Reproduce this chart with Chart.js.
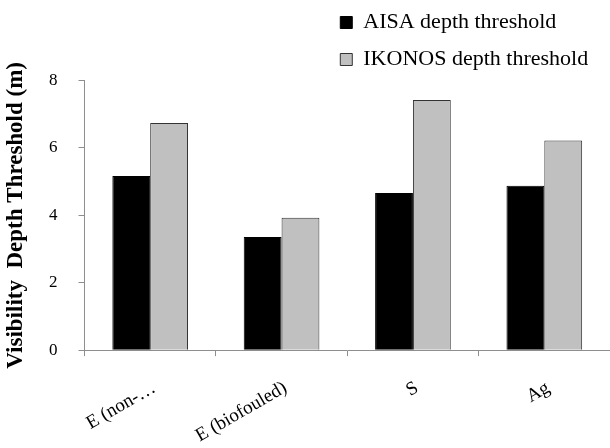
<!DOCTYPE html>
<html>
<head>
<meta charset="utf-8">
<script src="https://cdn.jsdelivr.net/npm/chart.js@4/dist/chart.umd.min.js"></script>
<style>
  html, body { margin: 0; padding: 0; background: #fff; }
  #wrap { position: relative; width: 610px; height: 448px; }
</style>
</head>
<body>
<div id="wrap"><canvas id="chart"></canvas></div>
<script>
// Sites surveyed
const categories = ['E (non-\u2026', 'E (biofouled)', 'S', 'Ag'];
// Depth (m) down to which targets stay visible, per sensor
const aisaDepth = [5.17, 3.36, 4.66, 4.88];
const ikonosDepth = [6.74, 3.93, 7.42, 6.22];
// Value axis
const yTicks = [0, 2, 4, 6, 8];

const serif = "'Liberation Serif', 'Times New Roman', Times, serif";
Chart.defaults.font.family = serif;
Chart.defaults.color = '#000';

const axisGrey = '#8e8e8e';

new Chart(document.getElementById('chart'), {
  type: 'bar',
  data: {
    labels: categories,
    datasets: [
      {
        label: 'AISA depth threshold',
        data: aisaDepth,
        backgroundColor: '#000000',
        borderColor: '#000000',
        borderWidth: 1
      },
      {
        label: 'IKONOS depth threshold',
        data: ikonosDepth,
        backgroundColor: '#c0c0c0',
        borderColor: '#333333',
        borderWidth: 1
      }
    ]
  },
  options: {
    responsive: true,
    maintainAspectRatio: false,
    animation: false,
    layout: { padding: { top: -3.5, left: 0, right: 0, bottom: -20 } },
    datasets: {
      bar: { categoryPercentage: 0.576, barPercentage: 1.0 }
    },
    plugins: {
      // blank spacer sharing the top row with the legend; it pushes the
      // legend to the right and fixes the height of that row
      title: {
        display: true,
        text: '',
        position: 'top',
        fullSize: false,
        stack: 'head',
        stackWeight: 0.4582,
        padding: { top: 0, bottom: 83 },
        font: { size: 1, lineHeight: 1 }
      },
      legend: {
        position: 'top',
        align: 'start',
        fullSize: false,
        stack: 'head',
        stackWeight: 0.5418,
        labels: {
          boxWidth: 12,
          boxHeight: 12,
          padding: 15,
          color: '#000',
          font: { size: 22, family: serif }
        }
      },
      tooltip: { enabled: false }
    },
    scales: {
      x: {
        grid: {
          display: true,
          drawOnChartArea: false,
          drawTicks: true,
          tickLength: 6,
          offset: true,
          color: axisGrey
        },
        border: { color: axisGrey, width: 1 },
        ticks: {
          autoSkip: false,
          minRotation: 30,
          maxRotation: 30,
          padding: 20.6,
          labelOffset: 4,
          color: '#000',
          font: { size: 19, family: serif }
        }
      },
      y: {
        min: 0,
        max: 8,
        afterBuildTicks: (axis) => { axis.ticks = yTicks.map(v => ({ value: v })); },
        grid: {
          display: true,
          drawOnChartArea: false,
          drawTicks: true,
          tickLength: 6,
          color: axisGrey
        },
        border: { color: axisGrey, width: 1 },
        ticks: {
          padding: 21,
          color: '#000',
          font: { size: 17, family: serif }
        },
        title: {
          display: true,
          text: 'Visibility  Depth Threshold (m)',
          color: '#000',
          padding: { top: 5, bottom: 0 },
          font: { size: 23, weight: 'bold', family: serif, lineHeight: 1 }
        }
      }
    }
  }
});
</script>
</body>
</html>
